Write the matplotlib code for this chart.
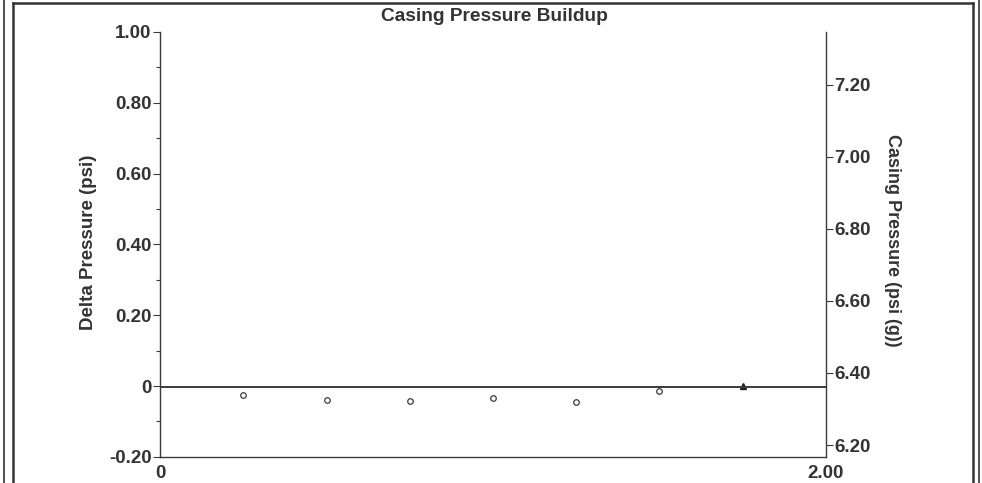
import matplotlib.pyplot as plt
from matplotlib.lines import Line2D
from matplotlib.ticker import MultipleLocator

plt.rcParams['font.family'] = ['Liberation Sans', 'DejaVu Sans']

# readings (hours since shut-in, delta pressure in psi)
time_h = [0.25, 0.50, 0.75, 1.00, 1.25, 1.50]
delta_psi = [-0.025, -0.040, -0.042, -0.033, -0.045, -0.015]
last_time = [1.75]
last_delta = [0.0]

# casing pressure trace
casing_time = [0.0, 2.0]
casing_psi = [6.36, 6.36]

left_ticks = [1.00, 0.80, 0.60, 0.40, 0.20, 0.0, -0.20]
left_labels = ["1.00", "0.80", "0.60", "0.40", "0.20", "0", "-0.20"]
right_ticks = [7.20, 7.00, 6.80, 6.60, 6.40, 6.20]
right_labels = ["7.20", "7.00", "6.80", "6.60", "6.40", "6.20"]
x_ticks = [0.0, 2.0]
x_labels = ["0", "2.00"]

fig = plt.figure(figsize=(9.82, 4.83), dpi=100)
ax = fig.add_axes([0.163, 0.054, 0.678, 0.880])
ax2 = ax.twinx()

ink = "#3a3a3a"

ax.plot(time_h, delta_psi, linestyle="none", marker="o", markersize=4,
        markerfacecolor="white", markeredgecolor=ink, markeredgewidth=0.9)
ax.plot(last_time, last_delta, linestyle="none", marker="^", markersize=5,
        color="#222222")
ax2.plot(casing_time, casing_psi, color=ink, linewidth=1.4)

ax.set_xlim(0, 2.0)
ax.set_ylim(-0.20, 1.00)
ax2.set_ylim(6.167, 7.347)

ax.set_yticks(left_ticks)
ax.set_yticklabels(left_labels)
ax.yaxis.set_minor_locator(MultipleLocator(0.1))
ax2.set_yticks(right_ticks)
ax2.set_yticklabels(right_labels)
ax.set_xticks(x_ticks)
ax.set_xticklabels(x_labels)

for a in (ax, ax2):
    a.spines["top"].set_visible(False)
    for s in a.spines.values():
        s.set_color(ink)
        s.set_linewidth(1.0)
ax.spines["right"].set_visible(False)
ax2.spines["left"].set_visible(False)
ax2.spines["bottom"].set_visible(False)

ax.tick_params(axis="y", which="major", length=5, width=0.8, color=ink,
               labelsize=13.5, pad=1)
ax.tick_params(axis="y", which="minor", length=3, width=0.8, color=ink)
ax.tick_params(axis="x", length=0, labelsize=13.5, pad=6)
ax2.tick_params(axis="y", length=5, width=0.8, color=ink, labelsize=13.5, pad=1)
for lab in ax.get_yticklabels() + ax2.get_yticklabels() + ax.get_xticklabels():
    lab.set_fontweight("bold")
    lab.set_color("#333333")

ax.set_ylabel("Delta Pressure (psi)", fontsize=13.5, fontweight="bold",
              color="#333333")
ax.yaxis.set_label_coords(-0.095, 0.505)
ax2.set_ylabel("Casing Pressure (psi (g))", fontsize=13, fontweight="bold",
               color="#333333", rotation=270, va="center")
ax2.yaxis.set_label_coords(1.10, 0.51)

fig.text(0.503, 0.966, "Casing Pressure Buildup", ha="center", va="center",
         fontsize=13.8, fontweight="bold", color="#333333")

# double frame round the chart
for x0, x1, y1, lw in [(0.004, 0.997, 1.1, 1.2), (0.013, 0.991, 0.994, 1.8)]:
    fig.add_artist(Line2D([x0, x0], [-0.1, y1], transform=fig.transFigure,
                          color="#333333", linewidth=lw))
    fig.add_artist(Line2D([x1, x1], [-0.1, y1], transform=fig.transFigure,
                          color="#333333", linewidth=lw))
    fig.add_artist(Line2D([x0, x1], [y1, y1], transform=fig.transFigure,
                          color="#333333", linewidth=lw))

fig.savefig("out.png", dpi=100)
